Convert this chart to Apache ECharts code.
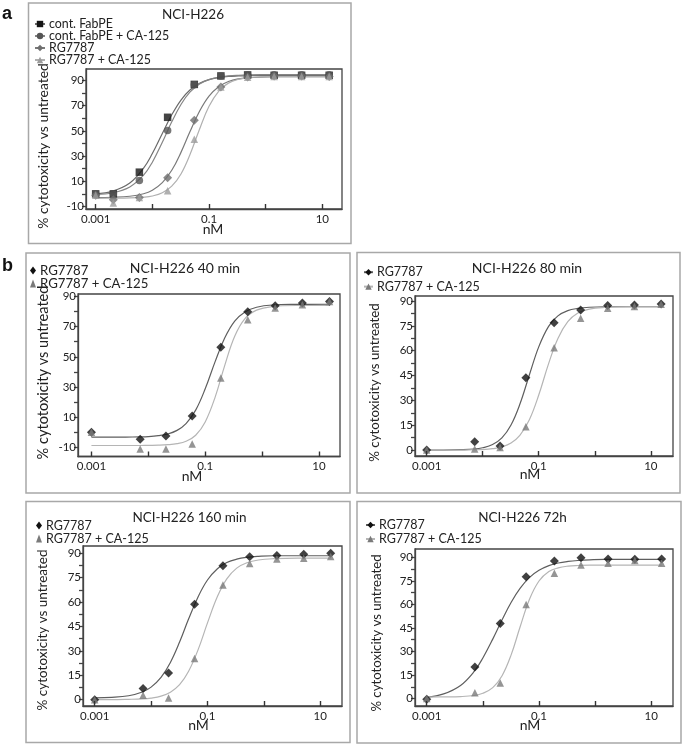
<!DOCTYPE html>
<html>
<head>
<meta charset="utf-8">
<script src="https://cdn.jsdelivr.net/npm/echarts@6/dist/echarts.min.js"></script>
<style>
  html, body { margin: 0; padding: 0; background: #fff; }
  #chart { width: 685px; height: 747px; }
</style>
</head>
<body>
<div id="chart"></div>
<script>
// concentrations of the measured points (nM)
const concA = [0.001, 0.00205, 0.0059, 0.0186, 0.055, 0.162, 0.48, 1.41, 4.3, 13.2];
const concB = [0.001, 0.0072, 0.0204, 0.059, 0.188, 0.56, 1.7, 5.1, 15.3];
const fitXA = [0.001, 0.002, 0.004, 0.007, 0.01, 0.015, 0.022, 0.032, 0.046, 0.068, 0.1, 0.15, 0.22, 0.33, 0.5, 0.8, 1.5, 4, 13.2];
const fitXB = [0.001, 0.002, 0.004, 0.007, 0.01, 0.015, 0.022, 0.032, 0.046, 0.068, 0.1, 0.15, 0.22, 0.33, 0.5, 0.8, 1.5, 4, 15.3];

// panel a - measured % cytotoxicity
const aFabPE   = [0, 0, 17.2, 60.7, 86.8, 93.5, 94.3, 94, 94, 94];
const aFabPECA = [0, 0, 10.5, 50.3, 86.5, 93.5, 94.5, 94.5, 94.5, 94.5];
const aRG      = [-1, -4.7, -2.8, 12.7, 58.3, 84.7, 92.7, 93.5, 93.5, 93];
const aRGCA    = [-1, -7.3, -2.8, 2.5, 43.3, 84.7, 92.4, 93, 93, 93];
// panel a - fitted curves
const aFitFabPE   = [0.0, 2.2, 8.6, 20.4, 32.0, 47.9, 62.7, 74.4, 82.3, 87.6, 90.6, 92.2, 93.1, 93.5, 93.8, 94, 94, 94, 94];
const aFitFabPECA = [-0.4, 0.9, 5.5, 14.8, 25.1, 40.9, 57.1, 70.9, 80.6, 87.1, 90.6, 92.6, 93.5, 94.0, 94.3, 94.5, 94.5, 94.5, 94.5];
const aFitRG      = [-2.9, -2.7, -1.9, 0.1, 2.9, 8.9, 18.7, 32.9, 49.2, 65.5, 77.5, 85.1, 89.1, 91.2, 92.1, 92.6, 92.9, 93, 93];
const aFitRGCA    = [-3.5, -3.45, -3.25, -2.65, -1.7, 0.9, 6.1, 15.8, 31.0, 51.3, 69.4, 81.7, 87.8, 90.8, 92.1, 92.7, 93, 93, 93];

// panel b - measured
const b40RG    = [0, -4.5, -2.5, 10.8, 56.4, 79.8, 83.8, 85.6, 86.7];
const b40RGCA  = [0, -11, -11, -7.8, 35.9, 74.5, 82.3, 84.5, 86.7];
const b80RG    = [0, 5, 2.4, 43.7, 76.9, 84.6, 87.2, 87.6, 88.2];
const b80RGCA  = [0, 0.6, 1.6, 14.1, 61.8, 79.5, 85.6, 86.6, 88];
const b160RG   = [0, 6.8, 16.4, 58.6, 82.4, 87.9, 88.6, 89.4, 90];
const b160RGCA = [0, 2.7, 1, 25.3, 70.5, 83.8, 86.5, 86.9, 88];
const b72RG    = [-0.4, 20.2, 47.9, 77.7, 87.7, 89.8, 88.9, 88.7, 88.9];
const b72RGCA  = [0, 3.8, 10, 60, 79.8, 85.1, 86.2, 87.9, 86.2];
// panel b - fitted curves
const b40FitRG    = [-3.2, -3.2, -3.14, -3.0, -2.8, -2.2, -1.1, 1.3, 5.8, 14.7, 28.8, 47.0, 62.4, 73.6, 79.7, 82.8, 84.3, 84.7, 84.8];
const b40FitRGCA  = [-8.7, -8.7, -8.7, -8.7, -8.6, -8.5, -8.2, -7.5, -5.9, -1.9, 6.9, 23.5, 44.2, 63.6, 75.3, 80.9, 83.3, 84, 84];
const b80FitRG    = [0, 0, 0.2, 0.6, 1.4, 3.3, 7.3, 15.1, 27.6, 45.3, 62.3, 74.7, 81.0, 84.2, 85.5, 86.2, 86.5, 86.5, 86.5];
const b80FitRGCA  = [0, 0, 0, 0.2, 0.3, 0.8, 1.9, 4.2, 8.8, 18.3, 33.2, 52.2, 67.4, 77.5, 82.7, 85.1, 86.1, 86.5, 86.5];
const b160FitRG   = [1.1, 1.4, 2.4, 4.7, 7.7, 13.7, 22.9, 35.4, 49.4, 63.2, 73.6, 80.5, 84.3, 86.4, 87.5, 88.1, 88.5, 88.5, 88.5];
const b160FitRGCA = [0, 0, 0.2, 0.5, 1.0, 2.2, 4.6, 9.2, 17.3, 30.6, 47.2, 63.4, 74.3, 80.9, 84.2, 85.9, 86.7, 87, 87];
const b72FitRG    = [0.8, 3.0, 8.4, 17.3, 25.9, 37.9, 50.2, 61.4, 70.2, 77.2, 81.7, 84.7, 86.4, 87.4, 88.0, 88.4, 88.7, 88.7, 88.7];
const b72FitRGCA  = [1, 1.1, 1.3, 2.0, 3.4, 7.0, 14.6, 28.0, 45.6, 63.4, 74.9, 80.9, 83.3, 84.4, 84.8, 85, 85, 85, 85];

// ticks and labels
const ticks10  = [-10, 0, 10, 20, 30, 40, 50, 60, 70, 80, 90];
const labels20 = [-10, 10, 30, 50, 70, 90];
const ticks75  = [0, 7.5, 15, 22.5, 30, 37.5, 45, 52.5, 60, 67.5, 75, 82.5, 90];
const labels15 = [0, 15, 30, 45, 60, 75, 90];
const logTicks  = [0.001, 0.01, 0.1, 1, 10];
const logLabels = [0.001, 0.1, 10];

const FONT = 'Lato';
const TXT = '#222';
const AX = '#444';
const zip = (xs, ys) => xs.map((x, i) => [x, ys[i]]);

// panel frames: grid box, axis ranges, decorations
const panels = [
  { id: 'a',   grid: [86, 69, 256, 140],   y: [-12, 99],   yt: ticks10, yl: labels20, x: [0.000675, 22.2],
    box: [28.5, 3, 322.5, 240.5], title: ['NCI-H226', 193, 15, 13.5], yName: [43.5, 146, 13.9], nM: [213, 229.5],
    legend: { left: 34, top: 18, gap: 12, w: 10 } },
  { id: '40',  grid: [78, 294, 262, 162.5], y: [-16, 91.6], yt: ticks10, yl: labels20, x: [0.000581, 23.4],
    box: [26, 253, 324, 240], title: ['NCI-H226 40 min', 185, 268, 14], yName: [43.5, 372.5, 14.6], nM: [192, 476],
    legend: { left: 30, top: 264, gap: 12.3, w: 6, icon: 'marker' } },
  { id: '80',  grid: [415, 296, 258, 160], y: [-3.6, 93],  yt: ticks75, yl: labels15, x: [0.000619, 24.9],
    box: [357, 252.5, 323, 240.5], title: ['NCI-H226 80 min', 527, 268, 14], yName: [375, 382.5, 13.3], nM: [530, 474],
    legend: { left: 363, top: 265, gap: 14.4, w: 9 } },
  { id: '160', grid: [83, 546, 259, 160], y: [-3.9, 94.5], yt: ticks75, yl: labels15, x: [0.00062, 24.3],
    box: [26, 501.5, 324, 241], title: ['NCI-H226 160 min', 189.5, 518, 13.5], yName: [43, 630, 13.5], nM: [198.5, 725],
    legend: { left: 36, top: 519, gap: 12.7, w: 6, icon: 'marker' } },
  { id: '72h', grid: [415, 549, 258, 157], y: [-4.7, 95.3], yt: ticks75, yl: labels15, x: [0.000618, 24.4],
    box: [357, 501.5, 324, 241.5], title: ['NCI-H226 72h', 522.5, 518, 13.5], yName: [376.5, 633, 13.2], nM: [530, 725],
    legend: { left: 365, top: 518, gap: 14, w: 9 } }
];

// series groups per panel: [label, fitY, measured, symbol, size, markColor, lineColor]
const groups = [
  [ ['cont. FabPE', aFitFabPE, aFabPE, 'rect', 7.5, '#151515', '#6a6a6a'],
    ['cont. FabPE + CA-125', aFitFabPECA, aFabPECA, 'circle', 7.5, '#555555', '#858585'],
    ['RG7787', aFitRG, aRG, 'diamond', 9, '#6e6e6e', '#7a7a7a'],
    ['RG7787 + CA-125', aFitRGCA, aRGCA, 'triangle', 7.5, '#9c9c9c', '#b0b0b0'] ],
  [ ['RG7787', b40FitRG, b40RG, 'diamond', 9, '#111111', '#5e5e5e'],
    ['RG7787 + CA-125', b40FitRGCA, b40RGCA, 'triangle', 7.5, '#7a7a7a', '#b5b5b5'] ],
  [ ['RG7787', b80FitRG, b80RG, 'diamond', 9, '#111111', '#5e5e5e'],
    ['RG7787 + CA-125', b80FitRGCA, b80RGCA, 'triangle', 7.5, '#7a7a7a', '#b5b5b5'] ],
  [ ['RG7787', b160FitRG, b160RG, 'diamond', 9, '#111111', '#5e5e5e'],
    ['RG7787 + CA-125', b160FitRGCA, b160RGCA, 'triangle', 7.5, '#7a7a7a', '#b5b5b5'] ],
  [ ['RG7787', b72FitRG, b72RG, 'diamond', 9, '#111111', '#5e5e5e'],
    ['RG7787 + CA-125', b72FitRGCA, b72RGCA, 'triangle', 7.5, '#7a7a7a', '#b5b5b5'] ]
];

const grid = [], xAxis = [], yAxis = [], series = [], legend = [], graphic = [];

panels.forEach((p, i) => {
  const fitX = i === 0 ? fitXA : fitXB;
  const conc = i === 0 ? concA : concB;
  grid.push({ left: p.grid[0], top: p.grid[1], width: p.grid[2], height: p.grid[3],
    show: true, borderColor: AX, borderWidth: 1.3, backgroundColor: 'transparent' });
  xAxis.push({
    type: 'log', logBase: 10, gridIndex: i, min: p.x[0], max: p.x[1], position: 'bottom',
    axisLine: { show: true, onZero: false, lineStyle: { color: AX, width: 1.3 } },
    splitLine: { show: false }, minorTick: { show: false },
    // decade ticks point up into the plot
    axisTick: { show: true, inside: true, length: 5, customValues: logTicks, lineStyle: { color: '#333', width: 1.4 } },
    axisLabel: { customValues: logLabels, margin: 4, fontSize: 11.5, color: TXT, fontFamily: FONT,
      formatter: v => String(Number(Number(v).toPrecision(3))) },
    z: 5
  });
  yAxis.push({
    type: 'value', gridIndex: i, min: p.y[0], max: p.y[1], position: 'left',
    axisLine: { show: true, onZero: false, lineStyle: { color: AX, width: 1.3 } }, splitLine: { show: false },
    axisTick: { show: true, inside: false, length: 4, customValues: p.yt, lineStyle: { color: AX, width: 1.3 } },
    axisLabel: { customValues: p.yl, margin: 2, fontSize: 11.5, color: TXT, fontFamily: FONT }
  });

  const names = [];
  groups[i].forEach(g => {
    const name = g[0] + '|' + p.id;
    names.push(p.legend.icon === 'marker' ? { name, icon: g[3] } : { name });
    series.push({
      type: 'line', name, xAxisIndex: i, yAxisIndex: i, data: zip(fitX, g[1]),
      smooth: 0.4, showSymbol: false, symbol: g[3], symbolSize: g[4], silent: true,
      itemStyle: { color: g[5] }, lineStyle: { color: g[6], width: 1.2 }, z: 2
    });
    series.push({
      type: 'scatter', name, xAxisIndex: i, yAxisIndex: i, data: zip(conc, g[2]),
      symbol: g[3], symbolSize: g[4], itemStyle: { color: g[5] }, z: 3
    });
  });
  legend.push({
    data: names, orient: 'vertical', left: p.legend.left, top: p.legend.top,
    itemGap: 0, itemWidth: p.legend.w, itemHeight: 8, padding: 0, selectedMode: false,
    formatter: n => n.split('|')[0],
    textStyle: { fontFamily: FONT, fontSize: i === 0 ? 12.4 : (i === 1 ? 13.2 : 12.5), color: TXT,
      lineHeight: p.legend.gap, padding: [0, 0, 0, -1] }
  });

  graphic.push({ type: 'rect', silent: true,
    shape: { x: p.box[0], y: p.box[1], width: p.box[2], height: p.box[3] },
    style: { fill: 'none', stroke: '#a8a8a8', lineWidth: 1.5 } });
  graphic.push({ type: 'text', silent: true, x: p.title[1], y: p.title[2],
    style: { text: p.title[0], fontFamily: FONT, fontSize: p.title[3], fill: TXT, align: 'center', verticalAlign: 'middle' } });
  graphic.push({ type: 'text', silent: true, x: p.yName[0], y: p.yName[1], rotation: Math.PI / 2,
    style: { text: '% cytotoxicity vs untreated', fontFamily: FONT, fontSize: p.yName[2], fill: TXT, align: 'center', verticalAlign: 'middle' } });
  graphic.push({ type: 'text', silent: true, x: p.nM[0], y: p.nM[1],
    style: { text: 'nM', fontFamily: FONT, fontSize: 14, fill: TXT, align: 'center', verticalAlign: 'middle' } });
});

// figure panel letters
graphic.push({ type: 'text', silent: true, x: 2, y: 14,
  style: { text: 'a', fontFamily: 'Liberation Sans', fontWeight: 'bold', fontSize: 18, fill: '#111', verticalAlign: 'middle' } });
graphic.push({ type: 'text', silent: true, x: 2, y: 266,
  style: { text: 'b', fontFamily: 'Liberation Sans', fontWeight: 'bold', fontSize: 18, fill: '#111', verticalAlign: 'middle' } });

const chart = echarts.init(document.getElementById('chart'), null, { renderer: 'canvas' });
chart.setOption({
  animation: false,
  backgroundColor: '#fff',
  textStyle: { fontFamily: FONT },
  grid, xAxis, yAxis, series, legend, graphic
});
</script>
</body>
</html>
